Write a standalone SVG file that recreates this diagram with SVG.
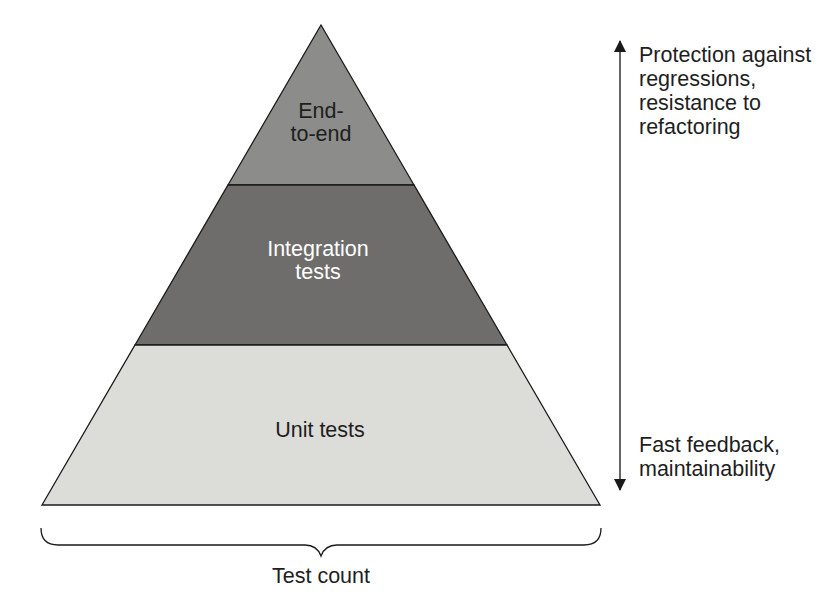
<svg xmlns="http://www.w3.org/2000/svg" width="826" height="602" viewBox="0 0 826 602">
<style>
text{font-family:"Liberation Sans",Arial,sans-serif;font-size:21.5px;fill:#1e1e1e}
.c{text-anchor:middle}
.w{fill:#ffffff}
.tier{stroke:#1a1a1a;stroke-width:1.3;stroke-linejoin:miter}
</style>
<defs>
<marker id="ah" viewBox="0 0 12 12" refX="11" refY="6" markerWidth="12" markerHeight="12" markerUnits="userSpaceOnUse" orient="auto-start-reverse">
<path d="M0,0 L12,6 L0,12 z" fill="#1a1a1a"/>
</marker>
</defs>
<rect width="826" height="602" fill="#ffffff"/>
<g id="end-to-end">
<polygon class="tier" points="321,25 414,185 228,185" fill="#8c8c8a"/>
<text class="c" x="321" y="118">End-</text>
<text class="c" x="321" y="141">to-end</text>
</g>
<g id="integration">
<polygon class="tier" points="228,185 414,185 507,345 135,345" fill="#6e6d6b"/>
<text class="c w" x="318" y="256">Integration</text>
<text class="c w" x="318" y="279">tests</text>
</g>
<g id="unit">
<polygon class="tier" points="135,345 507,345 600,505 42,505" fill="#dcdcd9"/>
<text class="c" x="320" y="437">Unit tests</text>
</g>
<g id="connectors">
<line x1="620" y1="41" x2="620" y2="490" stroke="#333" stroke-width="1.5" marker-start="url(#ah)" marker-end="url(#ah)"/>
<path d="M41,528 Q41,545 58,545 L305,545 Q317,545 321,556 Q325,545 337,545 L584,545 Q601,545 601,528" fill="none" stroke="#1a1a1a" stroke-width="1.3"/>
</g>
<g id="top-label">
<text x="639" y="62">Protection against</text>
<text x="639" y="86">regressions,</text>
<text x="639" y="110">resistance to</text>
<text x="639" y="134">refactoring</text>
</g>
<g id="bottom-label">
<text x="639" y="452">Fast feedback,</text>
<text x="639" y="476">maintainability</text>
</g>
<g id="test-count">
<text class="c" x="321" y="583">Test count</text>
</g>
</svg>
